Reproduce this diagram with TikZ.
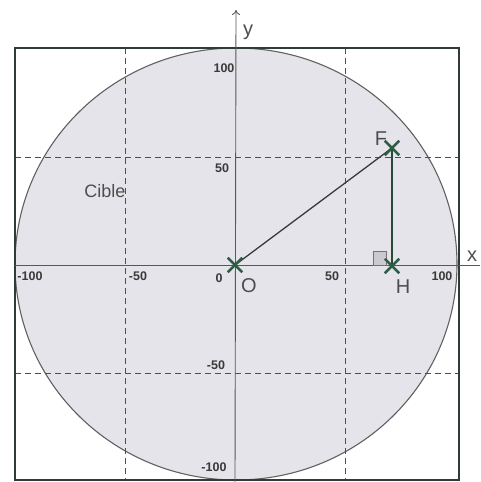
\documentclass[tikz,border=0pt]{standalone}
\usepackage{fontspec}
\setmainfont{Liberation Sans}
\usetikzlibrary{shapes.misc,arrows.meta}
\definecolor{fillc}{HTML}{E4E4EA}
\definecolor{linec}{HTML}{3A3A3A}
\definecolor{framec}{HTML}{2F3B36}
\definecolor{crossc}{HTML}{2E5D45}
\tikzset{
  grid/.style={draw=linec!90, line width=1pt, dash pattern=on 6pt off 4pt},
  axis/.style={draw=linec!85, line width=0.9pt},
  framebox/.style={draw=framec, line width=2.2pt},
  seg/.style={draw=linec, line width=1.3pt},
  xmark/.style={cross out, draw=crossc, line width=2.4pt, minimum size=12pt, inner sep=0pt},
  tick/.style={font=\fontsize{12.5}{13}\selectfont\bfseries, text=linec, inner sep=0pt},
  lab/.style={font=\fontsize{20}{22}\selectfont, text=linec!90, inner sep=0pt}
}
\begin{document}
\begin{tikzpicture}[x=1pt,y=-1pt]
\useasboundingbox (0,0) rectangle (481,482);
\fill[white] (0,0) rectangle (481,482);
% target disc
\filldraw[fill=fillc, draw=linec!80, line width=1.1pt] (236,264) ellipse [x radius=221, y radius=216];
% grid
\draw[grid] (125,48) -- (125,480);
\draw[grid] (345,48) -- (345,480);
\draw[grid] (15,157) -- (459,157);
\draw[grid] (15,373) -- (459,373);
% frame
\draw[framebox] (15,48) rectangle (459,480);
% axes
\coordinate (xl) at (15,265);
\coordinate (xr) at (480,265);
\coordinate (yb) at (235,482);
\coordinate (yt) at (236,10);
\draw[axis] (xl) -- (xr);
\draw[axis,-{To[length=5pt,width=8pt]}] (yb) -- (yt);
% points
\node[xmark] (O) at (235,265) {};
\node[xmark] (F) at (392,148) {};
\node[xmark] (H) at (392,266) {};
% right angle
\filldraw[fill=fillc!75!gray, draw=gray!90!black, line width=0.9pt] (373,251) rectangle (386,265);
% segments
\draw[seg] (O.center) -- (F.center);
\draw[seg, draw=crossc!80!black] (F.center) -- (H.center);
\node[xmark] at (O) {};
\node[xmark] at (F) {};
\node[xmark] at (H) {};
% labels
\node[lab] (ly) at (248,32) {y};
\node[lab] (lx) at (472,256) {x};
\node[lab] (lO) at (249,286) {O};
\node[lab] (lH) at (403,287) {H};
\node[lab] (lF) at (381,139) {F};
\node[lab, font=\fontsize{18}{20}\selectfont] (cible) at (105,191) {Cible};
% ticks
\node[tick] (t1) at (224,68) {100};
\node[tick] (t2) at (222,168) {50};
\node[tick] (t3) at (219,278) {0};
\node[tick] (t4) at (216,365) {-50};
\node[tick] (t5) at (214,467) {-100};
\node[tick] (t6) at (30,276) {-100};
\node[tick] (t7) at (138,276) {-50};
\node[tick] (t8) at (332,276) {50};
\node[tick] (t9) at (442,276) {100};
\end{tikzpicture}
\end{document}
